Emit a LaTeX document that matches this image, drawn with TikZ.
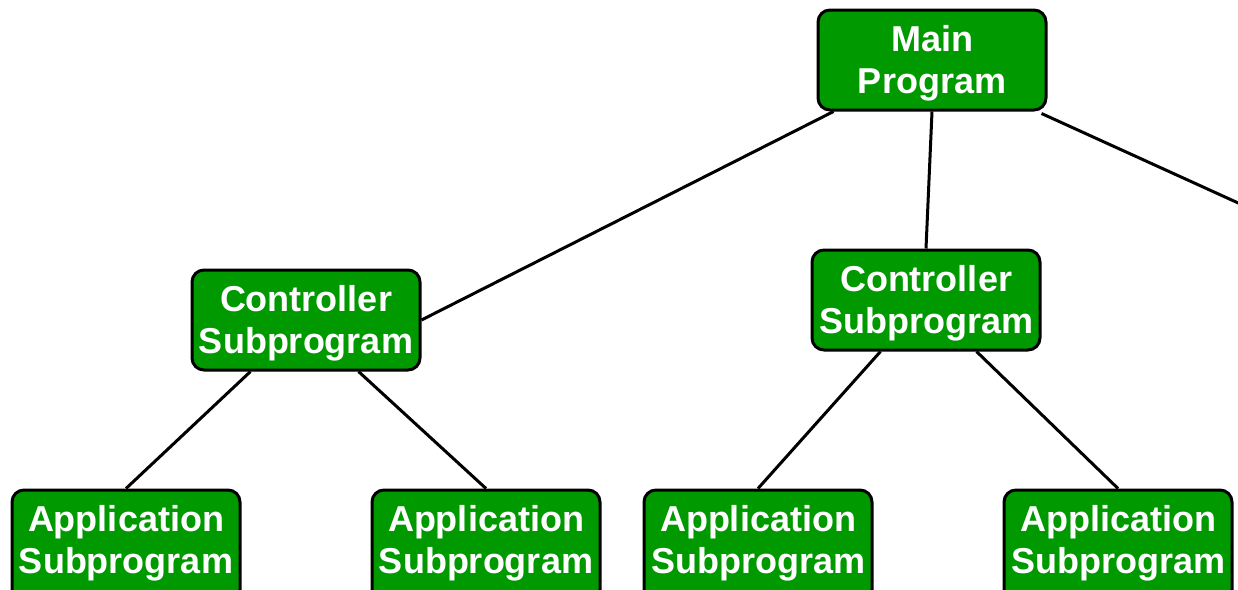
\documentclass[tikz,border=0pt]{standalone}
\usepackage{fontspec}
\setmainfont{Liberation Sans}
\definecolor{boxgreen}{HTML}{009900}
\tikzset{
  prog/.style={draw=black, line width=3pt, fill=boxgreen, rounded corners=12pt,
    minimum width=228pt, minimum height=100pt, inner sep=0pt, align=center,
    text height=75pt, text depth=8pt,
    text=white, font=\fontsize{36}{42}\selectfont\bfseries},
  % leaves run past the lower edge of the page
  leaf/.style={prog, minimum height=130pt, text depth=38pt},
  link/.style={draw=black, line width=3pt}
}
\begin{document}
\begin{tikzpicture}[x=1pt, y=-1pt]
  \useasboundingbox (0,0) rectangle (1238,589);
  \clip (0,0) rectangle (1238,589);

  % top level
  \node[prog] (main) at (932,60) {Main\\Program};

  % controllers
  \node[prog] (ctlA) at (306,320) {Controller\\Subprogram};
  \node[prog] (ctlB) at (926,300) {Controller\\Subprogram};

  % applications
  \node[leaf] (appA) at (126,555) {Application\\Subprogram};
  \node[leaf] (appB) at (486,555) {Application\\Subprogram};
  \node[leaf] (appC) at (758,555) {Application\\Subprogram};
  \node[leaf] (appD) at (1118,555) {Application\\Subprogram};

  % branch leaving to the right
  \coordinate (offright) at (1280,222);

  % connectors
  \path[link] ([xshift=17pt]main.south west) -- (ctlA.east);
  \path[link] (main.south) -- (ctlB.north);
  \path[link] ([xshift=-6pt,yshift=-2pt]main.south east) -- (offright);

  \path[link] ([xshift=60pt]ctlA.south west) -- (appA.north);
  \path[link] ([xshift=168pt]ctlA.south west) -- (appB.north);
  \path[link] ([xshift=70pt]ctlB.south west) -- (appC.north);
  \path[link] ([xshift=166pt]ctlB.south west) -- (appD.north);
\end{tikzpicture}
\end{document}
